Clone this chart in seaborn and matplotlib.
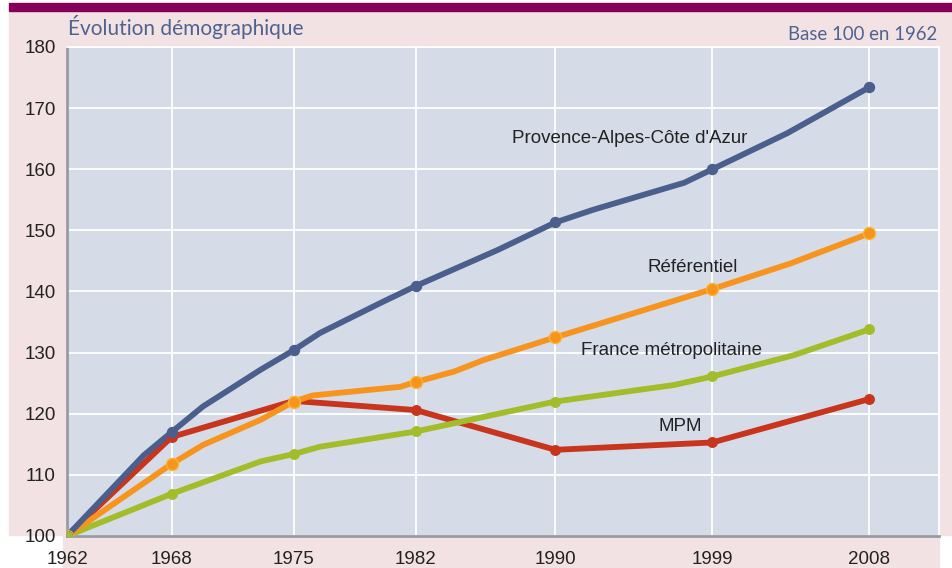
import matplotlib
matplotlib.use("Agg")
import matplotlib.pyplot as plt
from matplotlib.patches import Rectangle
import seaborn as sns
import pandas as pd

# census years (markers)
census_years = [1962, 1968, 1975, 1982, 1990, 1999, 2008]

# line vertices (some unmarked bends between census years)
paca_years = [1962, 1966.4, 1968, 1969.8, 1973.1, 1975, 1976.5, 1980.1, 1982,
              1986.7, 1990, 1992.2, 1997.4, 1999, 2003.3, 2008]
paca_vals = [100, 113.2, 117.0, 121.2, 127.2, 130.4, 133.2, 138.3, 140.9,
             146.8, 151.3, 153.4, 157.8, 160.0, 165.9, 173.4]

ref_years = [1962, 1968, 1969.8, 1973.1, 1975, 1976.1, 1981.1, 1982, 1984.2,
             1985.9, 1990, 1999, 2003.5, 2008]
ref_vals = [100, 111.8, 114.9, 119.0, 122.0, 123.0, 124.4, 125.2, 126.9,
            128.8, 132.5, 140.4, 144.6, 149.5]

fr_years = [1962, 1968, 1973.1, 1975, 1976.5, 1982, 1990, 1996.8, 1999,
            2003.7, 2008]
fr_vals = [100, 106.9, 112.2, 113.4, 114.6, 117.1, 122.0, 124.7, 126.1,
           129.6, 133.8]

mpm_years = [1962, 1968, 1975, 1982, 1990, 1999, 2008]
mpm_vals = [100, 116.2, 122.1, 120.6, 114.1, 115.3, 122.4]

series = [
    ("MPM", mpm_years, mpm_vals),
    ("France métropolitaine", fr_years, fr_vals),
    ("Référentiel", ref_years, ref_vals),
    ("Provence-Alpes-Côte d'Azur", paca_years, paca_vals),
]
colors = {
    "Provence-Alpes-Côte d'Azur": "#4a5f8c",
    "Référentiel": "#f7941d",
    "France métropolitaine": "#a3bd2a",
    "MPM": "#c8341c",
}
marker_px = {
    "Provence-Alpes-Côte d'Azur": 10,
    "Référentiel": 12,
    "France métropolitaine": 9.5,
    "MPM": 9.5,
}

# label positions (left edge year, centre value)
labels = [
    ("Provence-Alpes-Côte d'Azur", 1987.5, 165.1),
    ("Référentiel", 1995.3, 144.0),
    ("France métropolitaine", 1991.45, 130.4),
    ("MPM", 1995.9, 117.9),
]

sns.set_style("white")
plt.rcParams["font.family"] = ["Liberation Sans", "DejaVu Sans"]

W, H = 952, 568
fig = plt.figure(figsize=(W / 100, H / 100), dpi=100, facecolor="white")

pink = "#f3e2e4"
def px_rect(x0, y0, x1, y1, color):
    fig.patches.append(Rectangle((x0 / W, 1 - y1 / H), (x1 - x0) / W, (y1 - y0) / H,
                                 transform=fig.transFigure, color=color, zorder=-10))

px_rect(9, 11, 952, 535, pink)
px_rect(63, 535, 939, 568, pink)
px_rect(9, 3, 952, 11, "#86005a")

ax = fig.add_axes([67 / W, 1 - 536 / H, (939 - 67) / W, (536 - 47) / H])
ax.set_zorder(1)
ax.set_facecolor("#d5dce8")

for name, yrs, vals in series:
    df = pd.DataFrame({"year": yrs, "value": vals})
    sns.lineplot(data=df, x="year", y="value", ax=ax, color=colors[name],
                 linewidth=4.2, sort=False, estimator=None, zorder=3,
                 solid_capstyle="round", solid_joinstyle="round")
    mk = df[df["year"].isin(census_years)]
    edge = "#fdb52e" if name == "Référentiel" else colors[name]
    z = 5 if name == "France métropolitaine" else 4
    sns.scatterplot(data=mk, x="year", y="value", ax=ax, color=colors[name],
                    s=(marker_px[name] * 0.72) ** 2, edgecolor=edge,
                    linewidth=1.0, zorder=z)

for text, x, y in labels:
    ax.text(x, y, text, fontsize=13.5, color="#222222", ha="left", va="center", zorder=6)

ax.set_xlim(1962, 2012)
ax.set_ylim(100, 180)
ax.set_xticks(census_years)
ax.set_yticks(range(100, 181, 10))
ax.grid(True, color="white", linewidth=1.3, zorder=1)
ax.set_axisbelow(True)
ax.set_xlabel("")
ax.set_ylabel("")
ax.tick_params(axis="both", labelsize=13.5, colors="#222222", length=0)
ax.tick_params(axis="x", pad=11)
ax.tick_params(axis="y", pad=8)
for s in ["left", "bottom"]:
    ax.spines[s].set_color("#9a9aa2")
    ax.spines[s].set_linewidth(2)
for s in ["top", "right"]:
    ax.spines[s].set_color("white")
    ax.spines[s].set_linewidth(1.3)

fig.text(68 / W, 1 - 27 / H, "Évolution démographique", fontsize=15,
         color="#4d6490", family=["Lato", "DejaVu Sans"], ha="left", va="center")
fig.text(937 / W, 1 - 35 / H, "Base 100 en 1962", fontsize=13.4,
         color="#4d6490", family=["Lato", "DejaVu Sans"], ha="right", va="center")

fig.savefig("out.png", dpi=100, facecolor=fig.get_facecolor())
